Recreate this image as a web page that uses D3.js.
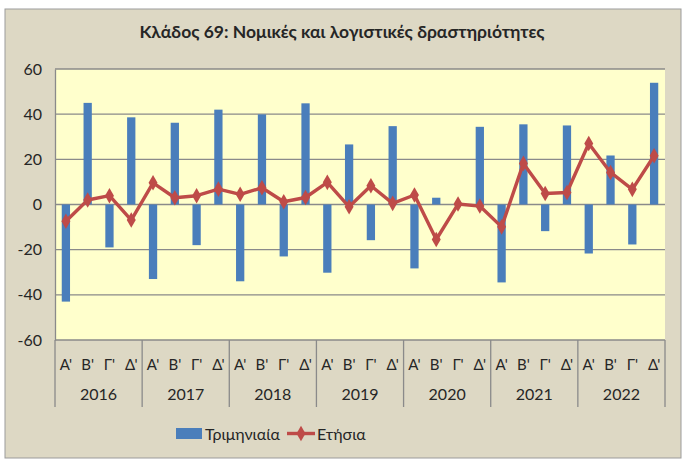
<!DOCTYPE html>
<html>
<head>
<meta charset="utf-8">
<script src="https://cdn.jsdelivr.net/npm/d3@7"></script>
<style>
  body { margin: 0; background: #fff; }
  text { font-family: Lato, "Noto Sans", sans-serif; fill: #262626; }
</style>
</head>
<body>
<div id="chart"></div>
<script>
const years = ["2016", "2017", "2018", "2019", "2020", "2021", "2022"];
const quarters = ["Α'", "Β'", "Γ'", "Δ'"];
const yTicks = [-60, -40, -20, 0, 20, 40, 60];

// quarterly change (bars)
const quarterly = [
  -43, 45, -19, 38.6,
  -33, 36.2, -18, 42,
  -34, 39.9, -23, 44.8,
  -30.2, 26.6, -15.8, 34.7,
  -28.3, 3, 0, 34.4,
  -34.5, 35.5, -11.8, 35,
  -21.7, 21.7, -17.7, 53.9
];
// annual change (line)
const annual = [
  -7.4, 2, 3.9, -6.9,
  9.6, 3, 3.9, 6.8,
  4.5, 7.4, 1.2, 3.1,
  9.8, -1, 8.3, 0.5,
  4.2, -15.5, 0.2, -0.7,
  -9.9, 18.2, 4.9, 5.3,
  27, 14.2, 6.7, 21.6
];

const W = 683, H = 459;
const plot = { left: 55, right: 665, top: 69, bottom: 340 };

const keys = [];
years.forEach(y => quarters.forEach(q => keys.push(y + "|" + q)));

const svg = d3.select("#chart").append("svg")
  .attr("width", W).attr("height", H);

// outer frame
svg.append("rect")
  .attr("x", 5).attr("y", 9).attr("width", 676).attr("height", 449)
  .attr("fill", "#ddd8c4").attr("stroke", "#9b9b9b").attr("stroke-width", 1);

const x = d3.scaleBand().domain(keys)
  .range([plot.left, plot.right])
  .paddingInner(0.62).paddingOuter(0.31);
const y = d3.scaleLinear().domain([-60, 60]).range([plot.bottom, plot.top]);

svg.append("rect")
  .attr("x", plot.left).attr("y", plot.top)
  .attr("width", plot.right - plot.left).attr("height", plot.bottom - plot.top)
  .attr("fill", "#ffffcc");

// gridlines
svg.append("g")
  .selectAll("line")
  .data(yTicks)
  .join("line")
  .attr("x1", plot.left).attr("x2", plot.right)
  .attr("y1", d => y(d)).attr("y2", d => y(d))
  .attr("stroke", "#8a8a8a").attr("stroke-width", 1.3);

// y axis
const yAxis = svg.append("g")
  .attr("transform", `translate(${plot.left},0)`)
  .call(d3.axisLeft(y).tickValues(yTicks).tickSize(0).tickPadding(13)
    .tickFormat(d => String(d)));
yAxis.select(".domain").attr("stroke", "#8a8a8a").attr("stroke-width", 1.3);
yAxis.selectAll("text").style("font-size", "16px")
  .style("font-family", "Lato, 'Noto Sans', sans-serif").attr("fill", "#262626");

// bars
svg.append("g")
  .selectAll("rect")
  .data(quarterly)
  .join("rect")
  .attr("x", (d, i) => x(keys[i]))
  .attr("y", d => y(Math.max(0, d)))
  .attr("width", x.bandwidth())
  .attr("height", d => Math.abs(y(d) - y(0)))
  .attr("fill", "#4a7ebb");

// line
const cx = i => x(keys[i]) + x.bandwidth() / 2;
const line = d3.line().x((d, i) => cx(i)).y(d => y(d));
svg.append("path")
  .datum(annual)
  .attr("d", line)
  .attr("fill", "none")
  .attr("stroke", "#be4b48")
  .attr("stroke-width", 3.4)
  .attr("stroke-linejoin", "round");

const diamond = d3.symbol().type(d3.symbolDiamond).size(70);
svg.append("g")
  .selectAll("path")
  .data(annual)
  .join("path")
  .attr("d", diamond)
  .attr("transform", (d, i) => `translate(${cx(i)},${y(d)})`)
  .attr("fill", "#be4b48");

// category axis: quarters and years
const xAxis = svg.append("g");
const step = x.step();
const yearW = step * 4;
years.forEach((yr, j) => {
  const x0 = plot.left + j * yearW;
  xAxis.append("text")
    .attr("x", x0 + yearW / 2).attr("y", 400)
    .attr("text-anchor", "middle")
    .style("font-size", "16px")
    .text(yr);
});
xAxis.selectAll(".q")
  .data(keys)
  .join("text")
  .attr("class", "q")
  .attr("x", (d, i) => cx(i))
  .attr("y", 370)
  .attr("text-anchor", "middle")
  .style("font-size", "15px")
  .text(d => d.split("|")[1]);
xAxis.selectAll("line")
  .data(d3.range(years.length + 1))
  .join("line")
  .attr("x1", j => plot.left + j * yearW).attr("x2", j => plot.left + j * yearW)
  .attr("y1", plot.bottom).attr("y2", 407)
  .attr("stroke", "#8a8a8a").attr("stroke-width", 1.3);

// title
svg.append("text")
  .attr("x", 342).attr("y", 38)
  .attr("text-anchor", "middle")
  .style("font-size", "17.5px").style("font-weight", "bold")
  .text("Κλάδος 69: Νομικές και λογιστικές δραστηριότητες");

// legend
const lg = svg.append("g");
lg.append("rect").attr("x", 176).attr("y", 428).attr("width", 26).attr("height", 11)
  .attr("fill", "#4a7ebb");
lg.append("text").attr("x", 205).attr("y", 440).style("font-size", "16px").text("Τριμηνιαία");
lg.append("line").attr("x1", 287).attr("x2", 315).attr("y1", 433.5).attr("y2", 433.5)
  .attr("stroke", "#be4b48").attr("stroke-width", 3.4);
lg.append("path").attr("d", diamond).attr("transform", "translate(301,433.5)")
  .attr("fill", "#be4b48");
lg.append("text").attr("x", 317).attr("y", 440).style("font-size", "16px").text("Ετήσια");
</script>
</body>
</html>
